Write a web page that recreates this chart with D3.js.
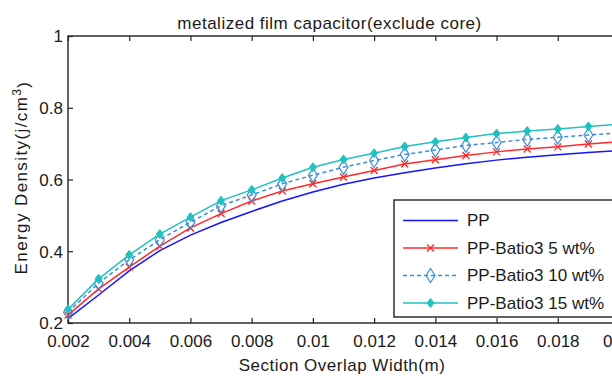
<!DOCTYPE html>
<html>
<head>
<meta charset="utf-8">
<script src="https://cdn.jsdelivr.net/npm/d3@7"></script>
<style>
  html, body { margin: 0; padding: 0; background: #fff; }
  svg { display: block; overflow: hidden; }
  text { font-family: "Liberation Sans", Arial, sans-serif; fill: #1a1a1a; }
</style>
</head>
<body>
<svg id="chart" width="612" height="378"></svg>
<script>
// Section overlap width (m)
const overlapWidth = [0.002, 0.003, 0.004, 0.005, 0.006, 0.007, 0.008, 0.009, 0.010, 0.011,
                      0.012, 0.013, 0.014, 0.015, 0.016, 0.017, 0.018, 0.019, 0.020];
// Energy density (J/cm^3) per film type
const densityPP    = [0.212, 0.278, 0.345, 0.402, 0.445, 0.480, 0.511, 0.540, 0.565, 0.587,
                      0.604, 0.619, 0.632, 0.644, 0.654, 0.662, 0.669, 0.675, 0.681];
const densityBT5   = [0.222, 0.295, 0.356, 0.414, 0.465, 0.505, 0.540, 0.568, 0.588, 0.607,
                      0.625, 0.643, 0.655, 0.667, 0.677, 0.685, 0.691, 0.699, 0.705];
const densityBT10  = [0.230, 0.311, 0.376, 0.432, 0.481, 0.527, 0.557, 0.588, 0.612, 0.634,
                      0.653, 0.670, 0.682, 0.695, 0.703, 0.712, 0.718, 0.724, 0.730];
const densityBT15  = [0.238, 0.323, 0.390, 0.448, 0.495, 0.541, 0.571, 0.604, 0.634, 0.656,
                      0.673, 0.692, 0.705, 0.717, 0.728, 0.735, 0.741, 0.748, 0.754];
const seriesNames  = ["PP", "PP-Batio3 5 wt%", "PP-Batio3 10 wt%", "PP-Batio3 15 wt%"];
const xTicks = [0.002, 0.004, 0.006, 0.008, 0.010, 0.012, 0.014, 0.016, 0.018, 0.020];
const yTicks = [0.2, 0.4, 0.6, 0.8, 1.0];

const svg = d3.select("#chart");
const plot = { left: 68, top: 36, right: 619, bottom: 323 };

const x = d3.scaleLinear().domain([0.002, 0.02]).range([plot.left, plot.right]);
const y = d3.scaleLinear().domain([0.2, 1]).range([plot.bottom, plot.top]);

const fmt = d => String(+d.toFixed(3));

// Axes with inward ticks on all four sides
const gx = svg.append("g").attr("transform", `translate(0,${plot.bottom})`)
  .call(d3.axisBottom(x).tickValues(xTicks).tickFormat(fmt).tickSizeInner(-5).tickSizeOuter(0));
gx.selectAll("text").attr("y", 24).attr("dy", 0).style("font-size", "17px");

const gy = svg.append("g").attr("transform", `translate(${plot.left},0)`)
  .call(d3.axisLeft(y).tickValues(yTicks).tickFormat(d => String(+d.toFixed(1))).tickSizeInner(-5).tickSizeOuter(0));
gy.selectAll("text").attr("x", -5).attr("dy", "0.35em").style("font-size", "17px");

svg.append("g").attr("transform", `translate(0,${plot.top})`)
  .call(d3.axisTop(x).tickValues(xTicks).tickFormat("").tickSizeInner(-5).tickSizeOuter(0));
svg.append("g").attr("transform", `translate(${plot.right},0)`)
  .call(d3.axisRight(y).tickValues(yTicks).tickFormat("").tickSizeInner(-5).tickSizeOuter(0));

svg.selectAll(".domain").remove();
svg.selectAll(".tick line").attr("stroke", "#222").attr("stroke-width", 1.2);

svg.append("rect")
  .attr("x", plot.left).attr("y", plot.top)
  .attr("width", plot.right - plot.left).attr("height", plot.bottom - plot.top)
  .attr("fill", "none").attr("stroke", "#222").attr("stroke-width", 1.4);

// Marker painters
const markers = {
  none: () => {},
  cross: (g, cx, cy, color) => {
    const s = 3.5;
    g.append("path")
      .attr("d", `M${cx - s},${cy - s}L${cx + s},${cy + s}M${cx - s},${cy + s}L${cx + s},${cy - s}`)
      .attr("stroke", color).attr("stroke-width", 1.3).attr("fill", "none");
  },
  diamondOpen: (g, cx, cy, color) => {
    const w = 4.5, h = 7;
    g.append("path")
      .attr("d", `M${cx},${cy - h}L${cx + w},${cy}L${cx},${cy + h}L${cx - w},${cy}Z`)
      .attr("stroke", color).attr("stroke-width", 1.2).attr("fill", "none");
  },
  diamondFilled: (g, cx, cy, color) => {
    const w = 3.5, h = 4.5;
    g.append("path")
      .attr("d", `M${cx},${cy - h}L${cx + w},${cy}L${cx},${cy + h}L${cx - w},${cy}Z`)
      .attr("stroke", color).attr("stroke-width", 1).attr("fill", color);
  }
};

const series = [
  { name: seriesNames[0], values: densityPP,   color: "#1414ff", dash: null,  marker: "none" },
  { name: seriesNames[1], values: densityBT5,  color: "#ff2a2a", dash: null,  marker: "cross" },
  { name: seriesNames[2], values: densityBT10, color: "#3a8fd8", dash: "4,3", marker: "diamondOpen" },
  { name: seriesNames[3], values: densityBT15, color: "#22c1c1", dash: null,  marker: "diamondFilled" }
];

const line = d3.line().x(d => x(d[0])).y(d => y(d[1]));

series.forEach(s => {
  const pts = overlapWidth.map((w, i) => [w, s.values[i]]);
  const g = svg.append("g");
  g.append("path").datum(pts)
    .attr("d", line)
    .attr("fill", "none")
    .attr("stroke", s.color)
    .attr("stroke-width", 1.5)
    .attr("stroke-dasharray", s.dash);
  pts.forEach(p => markers[s.marker](g, x(p[0]), y(p[1]), s.color));
});

// Legend
const legend = svg.append("g");
legend.append("rect")
  .attr("x", 394).attr("y", 200).attr("width", 230).attr("height", 117)
  .attr("fill", "#fff").attr("stroke", "#222").attr("stroke-width", 1.4);
series.forEach((s, i) => {
  const ly = 220.5 + i * 27.5;
  legend.append("line")
    .attr("x1", 403).attr("x2", 458).attr("y1", ly).attr("y2", ly)
    .attr("stroke", s.color).attr("stroke-width", 1.5)
    .attr("stroke-dasharray", s.dash);
  markers[s.marker](legend, 430.5, ly, s.color);
  legend.append("text")
    .attr("x", 467).attr("y", ly + 5.5)
    .style("font-size", "17px")
    .text(s.name);
});

// Titles
svg.append("text")
  .attr("x", 329.5).attr("y", 29)
  .attr("text-anchor", "middle")
  .style("font-size", "17px").style("letter-spacing", "0.5px")
  .text("metalized film capacitor(exclude core)");

svg.append("text")
  .attr("x", 342).attr("y", 371)
  .attr("text-anchor", "middle")
  .style("font-size", "17px").style("letter-spacing", "0.5px")
  .text("Section Overlap Width(m)");

const yl = svg.append("text")
  .attr("transform", "translate(26.5,177.5) rotate(-90)")
  .attr("text-anchor", "middle")
  .style("font-size", "17px").style("letter-spacing", "1.4px");
yl.append("tspan").text("Energy Density(j/cm");
yl.append("tspan").attr("dy", "-0.45em").style("font-size", "12px").text("3");
yl.append("tspan").attr("dy", "0.45em").text(")");
</script>
</body>
</html>
